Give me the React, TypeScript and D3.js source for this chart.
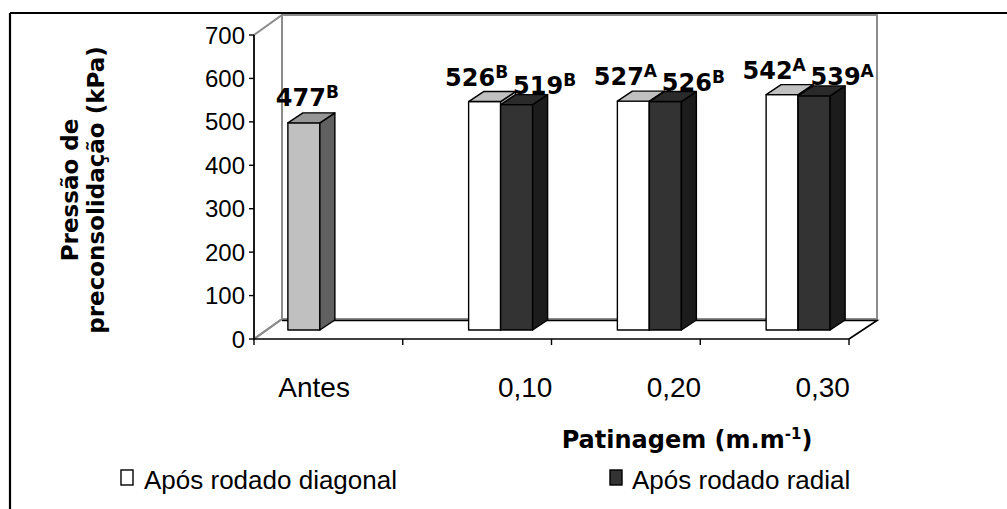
import React from "react";
import * as d3 from "d3";

const categories = ["Antes", "0,10", "0,20", "0,30"];
const categoryLabels = ["Antes" + "\u00A0".repeat(16), "0,10", "0,20", "0,30"];
const seriesKeys = ["antes", "diagonal", "radial"];
const seriesNames = ["Antes", "Após rodado diagonal", "Após rodado radial"];
const antesValues: (number | null)[] = [477, null, null, null];
const diagonalValues: (number | null)[] = [null, 526, 527, 542];
const radialValues: (number | null)[] = [null, 519, 526, 539];
const antesLetters = ["B", "", "", ""];
const diagonalLetters = ["", "B", "A", "A"];
const radialLetters = ["", "B", "B", "A"];
const yTicks = [0, 100, 200, 300, 400, 500, 600, 700];

const seriesValues = [antesValues, diagonalValues, radialValues];
const seriesLetters = [antesLetters, diagonalLetters, radialLetters];

const W = 1007;
const H = 509;
const X0 = 254;
const X1 = 849;
const DX = 28;
const DY = -20;
const BAR_DX = 7.5;
const BAR_DY = -9;
const BAR_DEPTH_X = 15;
const BAR_DEPTH_Y = -10;

const faceColors = [
  { front: "#C0C0C0", top: "#969696", side: "#606060" },
  { front: "#FFFFFF", top: "#C0C0C0", side: "#C0C0C0" },
  { front: "#333333", top: "#2A2A2A", side: "#1C1C1C" },
];
const labelOffsets = [
  { dx: 3.5, dy: -17 },
  { dx: -8, dy: -16 },
  { dx: 28, dy: -11 },
];

const REG = "'Liberation Sans', Arial, sans-serif";
const BOLD = "'DejaVu Sans', Verdana, sans-serif";

export default function App() {
  const y = d3.scaleLinear().domain([0, 700]).range([339, 35]);
  const x = d3.scaleBand<string>().domain(categories).range([X0, X1]).padding(0);
  const step = x.bandwidth();
  const inner = d3
    .scaleBand<string>()
    .domain(seriesKeys)
    .range([(step - 96) / 2, (step + 96) / 2])
    .padding(0);
  const bw = inner.bandwidth();

  const y0 = y(0);
  const yTop = y(700);

  const pts = (arr: [number, number][]) => arr.map((p) => p.join(",")).join(" ");

  const bars: React.ReactNode[] = [];
  const labels: React.ReactNode[] = [];
  categories.forEach((c, ci) => {
    seriesKeys.forEach((s, si) => {
      const v = seriesValues[si][ci];
      if (v == null) return;
      const fx = (x(c) as number) + (inner(s) as number) + BAR_DX;
      const fb = y0 + BAR_DY;
      const ft = fb - (y0 - y(v));
      const col = faceColors[si];
      bars.push(
        <g key={`b${ci}-${si}`} stroke="#000" strokeWidth={1.4} strokeLinejoin="round">
          <rect x={fx} y={ft} width={bw} height={fb - ft} fill={col.front} />
          <polygon
            points={pts([
              [fx + bw, ft],
              [fx + bw + BAR_DEPTH_X, ft + BAR_DEPTH_Y],
              [fx + bw + BAR_DEPTH_X, fb + BAR_DEPTH_Y],
              [fx + bw, fb],
            ])}
            fill={col.side}
          />
          <polygon
            points={pts([
              [fx, ft],
              [fx + BAR_DEPTH_X, ft + BAR_DEPTH_Y],
              [fx + bw + BAR_DEPTH_X, ft + BAR_DEPTH_Y],
              [fx + bw, ft],
            ])}
            fill={col.top}
          />
        </g>
      );
      const lo = labelOffsets[si];
      labels.push(
        <text
          key={`l${ci}-${si}`}
          x={fx + bw / 2 + lo.dx}
          y={ft + lo.dy}
          textAnchor="middle"
          fontFamily={BOLD}
          fontWeight="bold"
          fontSize={24}
          fill="#000"
        >
          {String(v)}
          <tspan fontSize={17} dy={-8}>
            {seriesLetters[si][ci]}
          </tspan>
        </text>
      );
    });
  });

  const boundaries = [...categories.map((c) => x(c) as number), X1];

  return (
    <svg
      width={W}
      height={H}
      style={{ position: "absolute", left: 0, top: 0, background: "#fff" }}
    >
      <rect x={0} y={0} width={W} height={H} fill="#fff" />
      {/* walls */}
      <g fill="none" stroke="#8C8C8C" strokeWidth={2}>
        <rect x={X0 + DX} y={yTop + DY} width={X1 - X0} height={y0 - yTop} />
        <polygon
          points={pts([
            [X0, yTop],
            [X0 + DX, yTop + DY],
            [X0 + DX, y0 + DY],
            [X0, y0],
          ])}
        />
      </g>
      {/* floor */}
      <polyline
        points={pts([
          [X0 + DX, y0 + DY + 1.5],
          [X1 + DX, y0 + DY + 1.5],
          [X1, y0],
        ])}
        fill="none"
        stroke="#000"
        strokeWidth={1.6}
      />
      <line x1={X0} y1={y0} x2={X0 + DX} y2={y0 + DY} stroke="#8C8C8C" strokeWidth={2} />
      {/* axes */}
      <line x1={X0} y1={yTop} x2={X0} y2={y0} stroke="#000" strokeWidth={1.6} />
      <line x1={X0} y1={y0} x2={X1} y2={y0} stroke="#000" strokeWidth={1.6} />
      {yTicks.map((t) => (
        <g key={`yt${t}`}>
          <line x1={X0 - 5} x2={X0} y1={y(t)} y2={y(t)} stroke="#000" strokeWidth={1.4} />
          <text
            x={X0 - 9}
            y={y(t)}
            dy="0.36em"
            textAnchor="end"
            fontFamily={REG}
            fontSize={24}
            fill="#000"
          >
            {t}
          </text>
        </g>
      ))}
      {boundaries.map((b, i) => (
        <line key={`xt${i}`} x1={b} x2={b} y1={y0} y2={y0 + 6} stroke="#000" strokeWidth={1.4} />
      ))}
      {categories.map((c, i) => (
        <text
          key={`xl${i}`}
          x={(x(c) as number) + step / 2 + 48}
          y={397}
          textAnchor="middle"
          fontFamily={REG}
          fontSize={28}
          fill="#000"
          style={{ whiteSpace: "pre" }}
        >
          {categoryLabels[i]}
        </text>
      ))}
      {bars}
      {labels}
      {/* axis titles */}
      <g fontFamily={BOLD} fontWeight="bold" fontSize={23} fill="#000" textAnchor="middle">
        <text transform="translate(78,190) rotate(-90)">Pressão de</text>
        <text transform="translate(104,190) rotate(-90)">preconsolidação (kPa)</text>
      </g>
      <text
        x={687}
        y={448}
        textAnchor="middle"
        fontFamily={BOLD}
        fontWeight="bold"
        fontSize={24}
        fill="#000"
      >
        Patinagem (m.m
        <tspan fontSize={15} dy={-9}>
          -1
        </tspan>
        <tspan dy={9}>)</tspan>
      </text>
      {/* legend */}
      <g fontFamily={REG} fontSize={26} fill="#000">
        <rect x={121} y={470} width={12} height={15} fill={faceColors[1].front} stroke="#000" strokeWidth={1.4} />
        <text x={144} y={489}>{seriesNames[1]}</text>
        <rect x={610} y={470} width={12} height={15} fill={faceColors[2].front} stroke="#000" strokeWidth={1.4} />
        <text x={632} y={489}>{seriesNames[2]}</text>
      </g>
      {/* outer border */}
      <line x1={10} y1={13} x2={W} y2={13} stroke="#000" strokeWidth={2.2} />
      <line x1={10} y1={13} x2={10} y2={H} stroke="#000" strokeWidth={2.2} />
    </svg>
  );
}
